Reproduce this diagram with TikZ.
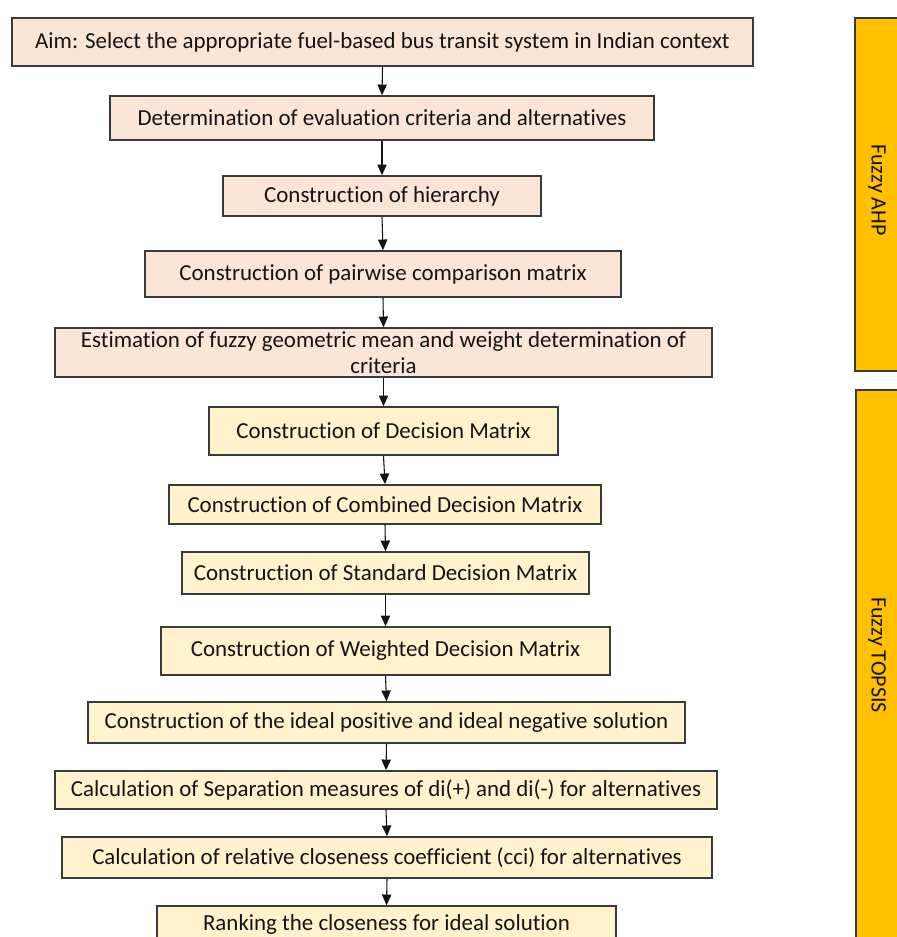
\documentclass[tikz,border=0pt]{standalone}
\usepackage{fontspec}
\setmainfont[Ligatures={NoCommon}]{Carlito}
\usetikzlibrary{arrows.meta}
\definecolor{peach}{HTML}{FBE5D6}
\definecolor{pale}{HTML}{FFF2CC}
\definecolor{amber}{HTML}{FFC000}
\definecolor{edge}{HTML}{3A3A3A}
\definecolor{ink}{HTML}{141414}
\begin{document}
\begin{tikzpicture}[x=0.75pt,y=-0.75pt,
  box/.style={draw=edge,line width=1.2pt,rectangle,inner sep=0pt,text=ink,font=\fontsize{17.2}{20}\selectfont,align=center},
  ahpbox/.style={box,fill=peach},
  topbox/.style={box,fill=pale},
  bar/.style={draw=edge,line width=1.2pt,fill=amber},
  flow/.style={draw=ink,line width=0.8pt,-{Triangle[width=7pt,length=8pt]}},
  sz/.style n args={2}{minimum width={#1*0.75pt},minimum height={#2*0.75pt}}]
\useasboundingbox (0,0) rectangle (896,937);
\fill[white] (0,0) rectangle (896,937);
\node[ahpbox,sz={741}{48}] (n1) at (382.5,42) {Aim: Select the appropriate fuel-based bus transit system in Indian context};
\node[ahpbox,sz={544}{44}] (n2) at (382,118) {Determination of evaluation criteria and alternatives};
\node[ahpbox,sz={318}{40}] (n3) at (382,196) {Construction of hierarchy};
\node[ahpbox,sz={476}{46}] (n4) at (383,274) {Construction of pairwise comparison matrix};
\node[ahpbox,sz={657}{49}] (n5) at (383.5,352.5) {Estimation of fuzzy geometric mean and weight determination of\\criteria};
\node[topbox,sz={349}{48}] (n6) at (383.5,431) {Construction of Decision Matrix};
\node[topbox,sz={432}{39}] (n7) at (385,504.5) {Construction of Combined Decision Matrix};
\node[topbox,sz={407}{42}] (n8) at (385.5,573) {Construction of Standard Decision Matrix};
\node[topbox,sz={449}{48}] (n9) at (385.5,651) {Construction of Weighted Decision Matrix};
\node[topbox,sz={597}{41}] (n10) at (386.5,722.5) {Construction of the ideal positive and ideal negative solution};
\node[topbox,sz={662}{38}] (n11) at (386,790) {Calculation of Separation measures of di(+) and di(-) for alternatives};
\node[topbox,sz={650}{41}] (n12) at (387,857.5) {Calculation of relative closeness coefficient (cci) for alternatives};
\node[topbox,sz={459}{36}] (n13) at (386.5,924) {Ranking the closeness for ideal solution};
\foreach \a/\b in {n1/n2,n2/n3,n3/n4,n4/n5,n5/n6,n6/n7,n7/n8,n8/n9,n9/n10,n10/n11,n11/n12,n12/n13}
  \draw[flow] (\a.south) -- (\b.north);
\draw[bar] (855,18) rectangle (902,371);
\draw[bar] (856,390) rectangle (902,950);
\node[rotate=-90,text=ink,font=\fontsize{16.5}{19}\selectfont] (ahp) at (877,190) {Fuzzy AHP};
\node[rotate=-90,text=ink,font=\fontsize{16.5}{19}\selectfont] (tops) at (877,655) {Fuzzy TOPSIS};
\end{tikzpicture}
\end{document}
